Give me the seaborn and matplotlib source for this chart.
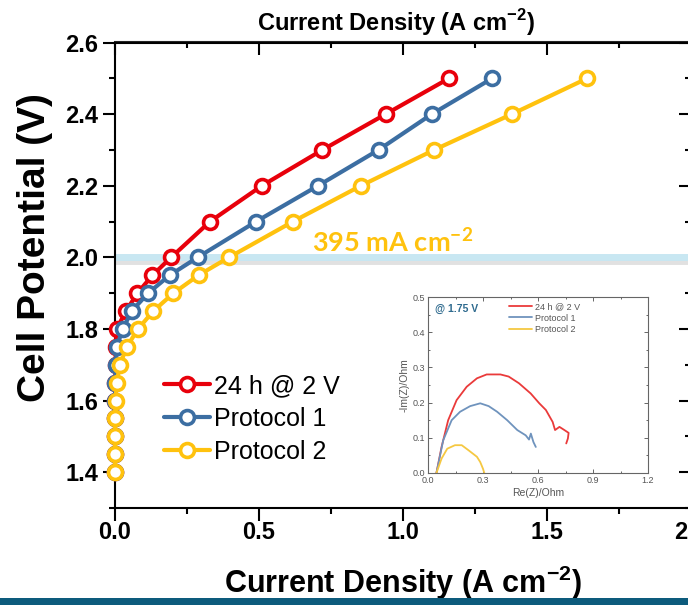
import matplotlib
matplotlib.use("Agg")
import matplotlib.pyplot as plt
import matplotlib.patheffects as pe
from matplotlib.patches import Rectangle
from matplotlib.ticker import MultipleLocator, FixedLocator
import seaborn as sns
import pandas as pd

# ---------------- data ----------------
series_names = ["24 h @ 2 V", "Protocol 1", "Protocol 2"]
voltage = [1.40, 1.45, 1.50, 1.55, 1.60, 1.65, 1.70, 1.75, 1.80, 1.85,
           1.90, 1.95, 2.00, 2.10, 2.20, 2.30, 2.40, 2.50]
current_24h = [0.0, 0.0, 0.0, 0.0, 0.0, 0.001, 0.002, 0.003, 0.006, 0.038,
               0.078, 0.13, 0.195, 0.33, 0.51, 0.72, 0.94, 1.16]
current_p1 = [0.0, 0.0, 0.0, 0.0, 0.0, 0.001, 0.003, 0.006, 0.027, 0.058,
              0.115, 0.19, 0.287, 0.49, 0.705, 0.915, 1.10, 1.31]
current_p2 = [0.0, 0.0, 0.0, 0.0, 0.002, 0.006, 0.017, 0.041, 0.08, 0.133,
              0.203, 0.29, 0.396, 0.618, 0.854, 1.108, 1.378, 1.64]

x_ticks = [0.0, 0.5, 1.0, 1.5, 2.0]
x_ticklabels = ["0.0", "0.5", "1.0", "1.5", "2.0"]
y_ticks = [1.4, 1.6, 1.8, 2.0, 2.2, 2.4, 2.6]
y_ticklabels = ["1.4", "1.6", "1.8", "2.0", "2.2", "2.4", "2.6"]

# inset Nyquist data (@ 1.75 V)
re_24h = [0.046, 0.074, 0.11, 0.156, 0.211, 0.267, 0.32, 0.395, 0.44, 0.496,
          0.56, 0.607, 0.643, 0.68, 0.693, 0.717, 0.744, 0.767, 0.763, 0.754]
im_24h = [0.0, 0.074, 0.15, 0.207, 0.245, 0.269, 0.28, 0.28, 0.274, 0.255,
          0.226, 0.198, 0.179, 0.145, 0.122, 0.131, 0.122, 0.114, 0.098, 0.084]
re_p1 = [0.046, 0.083, 0.129, 0.175, 0.23, 0.285, 0.331, 0.377, 0.432, 0.487,
         0.533, 0.551, 0.561, 0.575, 0.588]
im_p1 = [0.0, 0.093, 0.15, 0.174, 0.19, 0.198, 0.19, 0.174, 0.15, 0.122,
         0.107, 0.095, 0.112, 0.088, 0.074]
re_p2 = [0.046, 0.074, 0.105, 0.147, 0.184, 0.22, 0.267, 0.285, 0.30, 0.307]
im_p2 = [0.0, 0.041, 0.069, 0.079, 0.079, 0.065, 0.046, 0.031, 0.012, 0.0]
inset_xticks = [0.0, 0.3, 0.6, 0.9, 1.2]
inset_yticks = [0.0, 0.1, 0.2, 0.3, 0.4, 0.5]

axis_title = "Current Density (A cm$^{-2}$)"
annotation_text = r"395 mA cm$^{\mathsf{-2}}$"
inset_note = "@ 1.75 V"

colors = ["#e8000b", "#3c6ea2", "#ffc20e"]
inset_colors = ["#ea3a3a", "#6f93bd", "#f5c842"]

# ---------------- style ----------------
sns.set_theme(style="white")
plt.rcParams["font.family"] = ["Liberation Sans", "DejaVu Sans"]
plt.rcParams["mathtext.fontset"] = "custom"
plt.rcParams["mathtext.rm"] = "Liberation Sans:bold"
plt.rcParams["mathtext.bf"] = "Liberation Sans:bold"
plt.rcParams["mathtext.sf"] = "Lato:bold"
plt.rcParams["text.color"] = "black"
plt.rcParams["axes.labelcolor"] = "black"
plt.rcParams["xtick.color"] = "black"
plt.rcParams["ytick.color"] = "black"

W, H = 688, 605
fig = plt.figure(figsize=(W / 100, H / 100), dpi=100)
fig.patch.set_facecolor("white")


def fx(px):
    return px / W


def fy(py):
    return 1 - py / H


ax = fig.add_axes([fx(115), fy(508), fx(691) - fx(115), fy(42.5) - fy(508)])

main_df = pd.DataFrame({
    "current": current_24h + current_p1 + current_p2,
    "voltage": voltage * 3,
    "series": [series_names[0]] * len(voltage) + [series_names[1]] * len(voltage)
              + [series_names[2]] * len(voltage),
})

# reference line at 2.0 V
ax.axhline(2.0, color="#c8e7f2", lw=5, zorder=1,
           path_effects=[pe.SimpleLineShadow(offset=(0, -2.5), shadow_color="#888888", alpha=0.25),
                         pe.Normal()])

sns.lineplot(data=main_df, x="current", y="voltage", hue="series",
             hue_order=series_names, palette=colors, sort=False, estimator=None,
             marker="o", markersize=10, markerfacecolor="white", markeredgewidth=2.6,
             lw=3.0, ax=ax, zorder=3, legend=True)
for ln in ax.lines[1:]:
    ln.set_markeredgecolor(ln.get_color())
    ln.set_markerfacecolor("white")
    ln.set_clip_on(False)

ax.set_xlim(0, 2.0)
ax.set_ylim(1.3, 2.6)
ax.xaxis.set_major_locator(FixedLocator(x_ticks))
ax.xaxis.set_minor_locator(MultipleLocator(0.25))
ax.yaxis.set_major_locator(FixedLocator(y_ticks))
ax.yaxis.set_minor_locator(MultipleLocator(0.1))
ax.set_xticklabels(x_ticklabels, fontweight="bold", fontsize=17)
ax.set_yticklabels(y_ticklabels, fontweight="bold", fontsize=17)

for s in ax.spines.values():
    s.set_color("black")
    s.set_linewidth(1.5)

ax.tick_params(which="both", direction="out", bottom=True, left=True, top=False, right=False,
               color="black", width=1.5)
ax.tick_params(which="major", length=9)
ax.tick_params(axis="x", which="major", pad=0.5)
ax.tick_params(axis="y", which="major", pad=3)
ax.tick_params(which="minor", length=4)

ax.set_xlabel(axis_title, fontsize=22, fontweight="bold", labelpad=14)
ax.set_ylabel("Cell Potential (V)", fontsize=28, fontweight="bold")
ax.yaxis.set_label_coords(-0.108, 0.56)

# top and right ticks pointing inward
secx = ax.secondary_xaxis("top")
secx.xaxis.set_major_locator(FixedLocator(x_ticks))
secx.xaxis.set_minor_locator(MultipleLocator(0.25))
secx.tick_params(which="both", direction="in", labeltop=False, width=1.5, color="black")
secx.tick_params(which="major", length=9)
secx.tick_params(which="minor", length=4)
secx.spines["top"].set_linewidth(1.5)

# top axis title
ax.text(0.488, (508 - 23) / 465.5, axis_title, transform=ax.transAxes, fontsize=17,
        fontweight="bold", ha="center", va="center")

secy = ax.secondary_yaxis("right")
secy.yaxis.set_major_locator(FixedLocator(y_ticks))
secy.yaxis.set_minor_locator(MultipleLocator(0.1))
secy.tick_params(which="both", direction="in", labelright=False, width=1.5, color="black")
secy.tick_params(which="major", length=9)
secy.tick_params(which="minor", length=4)

# legend
handles, labels = ax.get_legend_handles_labels()
for h, c in zip(handles, colors):
    h.set_markeredgecolor(c)
    h.set_markerfacecolor("white")
    h.set_markersize(10)
    h.set_markeredgewidth(2.6)
    h.set_linewidth(3.0)
ax.legend(handles, labels, loc="upper left", bbox_to_anchor=(fx(164), fy(374)),
          bbox_transform=fig.transFigure, frameon=False, fontsize=18,
          handlelength=1.85, handletextpad=0.15, labelspacing=0.36,
          borderaxespad=0, borderpad=0)

# annotation
ax.text(0.685, 2.004, annotation_text, color="#ffc20e", fontsize=19.5,
        fontweight="bold", family="Lato", ha="left", va="bottom", zorder=4)

# ---------------- inset ----------------
iax = fig.add_axes([fx(428), fy(473), fx(648) - fx(428), fy(297) - fy(473)])
inset_df = pd.DataFrame({
    "re": re_24h + re_p1 + re_p2,
    "im": im_24h + im_p1 + im_p2,
    "series": [series_names[0]] * len(re_24h) + [series_names[1]] * len(re_p1)
              + [series_names[2]] * len(re_p2),
})
sns.lineplot(data=inset_df, x="re", y="im", hue="series", hue_order=series_names,
             palette=inset_colors, sort=False, estimator=None, lw=1.3, ax=iax)
iax.set_xlim(0, 1.2)
iax.set_ylim(0, 0.5)
iax.xaxis.set_major_locator(FixedLocator(inset_xticks))
iax.yaxis.set_major_locator(FixedLocator(inset_yticks))
iax.xaxis.set_minor_locator(MultipleLocator(0.15))
iax.yaxis.set_minor_locator(MultipleLocator(0.05))
for s in iax.spines.values():
    s.set_color("#666666")
    s.set_linewidth(0.8)
iax.tick_params(which="both", direction="in", top=True, right=True, bottom=True, left=True,
                color="#666666", width=0.7, labelsize=6.5, labelcolor="#555555", pad=2)
iax.tick_params(which="major", length=3)
iax.tick_params(which="minor", length=1.5)
iax.set_xlabel("Re(Z)/Ohm", fontsize=7.5, color="#555555", labelpad=2)
iax.set_ylabel("-Im(Z)/Ohm", fontsize=7.5, color="#555555", labelpad=2)
iax.text(0.03, 0.93, inset_note, transform=iax.transAxes, fontsize=7.5, fontweight="bold",
         color="#2e6a8e", ha="left", va="center")
ih, il = iax.get_legend_handles_labels()
iax.legend(ih, il, loc="upper left", bbox_to_anchor=(0.35, 0.99), frameon=False,
           fontsize=6.5, handlelength=2.6, handletextpad=0.3, labelspacing=0.25,
           borderaxespad=0, labelcolor="#555555")

# bottom band
fig.patches.append(Rectangle((0, 0), 1, 7 / H, transform=fig.transFigure,
                             facecolor="#0d5b7c", edgecolor="none", zorder=10))

fig.savefig("out.png", dpi=100)
